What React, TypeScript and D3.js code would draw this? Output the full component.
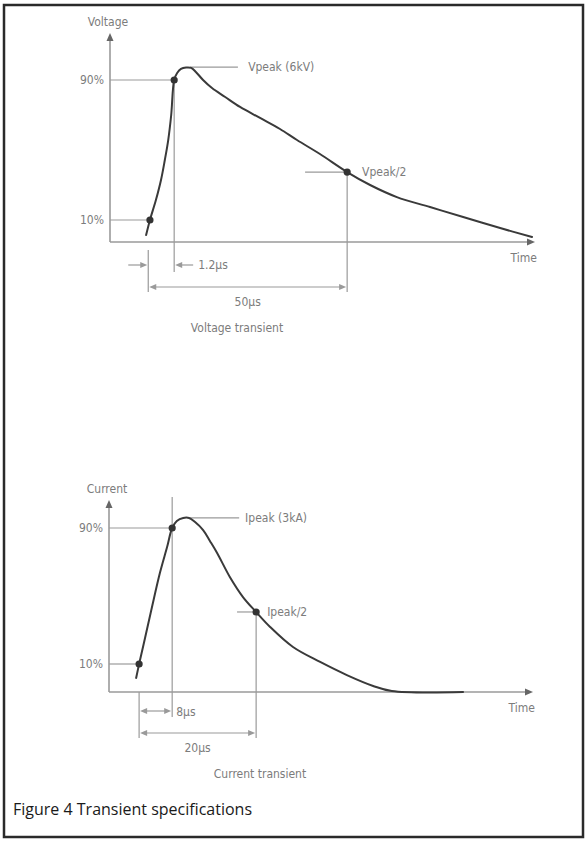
import React from 'react';
import * as d3 from 'd3';

// ---------- DATA (schematic time units 0..100 along the axis, level in % of peak) ----------
const voltageTime = [8.5, 9.4, 10.8, 12.0, 12.9, 13.7, 14.4, 15.1, 15.8, 16.7, 17.9, 19.1, 20.2, 21.9, 24.0, 27.1, 30.6, 35.3, 40.0, 44.0, 49.4, 55.8, 61.2, 67.5, 75.3, 83.1, 91.8, 99.3];
const voltageLevel = [1.4, 10, 21.4, 32.9, 44.3, 55.7, 70, 90, 94, 96.3, 97.1, 96.9, 94.6, 90, 85.4, 80.3, 74.6, 68.3, 62, 55.7, 47.7, 37.4, 30, 23.1, 17.4, 11.7, 5.4, 0.3];

const currentTime = [6.4, 7.1, 8.5, 10.1, 12.0, 13.7, 14.9, 16.0, 17.5, 18.9, 20.3, 22.2, 23.8, 25.5, 28.5, 31.6, 34.7, 38.0, 43.4, 49.8, 56.1, 62.3, 66.7, 83.5];
const currentLevel = [1.8, 10, 25.3, 43.1, 63.5, 78.8, 90, 94.1, 95.9, 95.9, 93.5, 88.8, 82.4, 75.3, 61.2, 49.4, 40.6, 31.8, 20, 11.2, 3.5, -2.9, -5.9, -6.5];

// marker points: 10%, 90%, half-peak
const voltageMarkerTime = [9.4, 15.1, 55.8];
const voltageMarkerLevel = [10, 90, 37.4];
const currentMarkerTime = [7.1, 14.9, 34.7];
const currentMarkerLevel = [10, 90, 40.6];

const levelTicks = [10, 90];
const levelTickLabels = ['10%', '90%'];

const voltageLabels = { y: 'Voltage', x: 'Time', peak: 'Vpeak (6kV)', half: 'Vpeak/2', front: '1.2µs', tail: '50µs', title: 'Voltage transient' };
const currentLabels = { y: 'Current', x: 'Time', peak: 'Ipeak (3kA)', half: 'Ipeak/2', front: '8µs', tail: '20µs', title: 'Current transient' };

// peak leader spans (time units) and peak level
const voltagePeak = { level: 97.4, from: 18.8, to: 30.1, label: 32.5 };
const currentPeak = { level: 95.9, from: 19.1, to: 30.7, label: 32.1 };
const voltageHalfLeader = { from: 45.9, label: 59.3 };
const currentHalfLeader = { from: 30.2, label: 37.3 };
const voltageDimStart = 9.0;
const currentDimStart = 7.1;

// ---------- STYLE ----------
const W = 588, H = 842;
const CURVE = '#3a3a3a';
const GUIDE = '#9a9a9a';
const TEXT = '#7c7c7c';
const FONT = "'DejaVu Sans Condensed', 'Liberation Sans Narrow', Arial, sans-serif";

type Layout = { x0: number; x1: number; y10: number; y90: number; axisY: number; axisTop: number };
const voltageLayout: Layout = { x0: 110, x1: 535, y10: 220, y90: 80, axisY: 242, axisTop: 33 };
const currentLayout: Layout = { x0: 109, x1: 533, y10: 664, y90: 528, axisY: 692, axisTop: 500 };

function Arrow({ x, y, dir, fill = GUIDE, len = 7, half = 3 }: { x: number; y: number; dir: 'l' | 'r' | 'u'; fill?: string; len?: number; half?: number }) {
  let pts = '';
  if (dir === 'r') pts = `${x},${y} ${x - len},${y - half} ${x - len},${y + half}`;
  if (dir === 'l') pts = `${x},${y} ${x + len},${y - half} ${x + len},${y + half}`;
  if (dir === 'u') pts = `${x},${y} ${x - half},${y + len} ${x + half},${y + len}`;
  return <polygon points={pts} fill={fill} />;
}

function Panel({ layout, times, levels, mTimes, mLevels, labels, peak, halfLeader, dimStart, isVoltage }: any) {
  const x = d3.scaleLinear().domain([0, 100]).range([layout.x0, layout.x1]);
  const y = d3.scaleLinear().domain([10, 90]).range([layout.y10, layout.y90]);
  const pts: [number, number][] = times.map((t: number, i: number) => [t, levels[i]]);
  const line = d3.line<[number, number]>().x(d => x(d[0])).y(d => y(d[1])).curve(d3.curveCatmullRom.alpha(0.5));
  const ax = layout.x0;
  const ay = layout.axisY;
  const tStyle = { fontFamily: FONT, fontSize: 12, fill: TEXT } as any;

  const ninetyX = x(mTimes[1]);
  const halfX = x(mTimes[2]);
  const halfY = y(mLevels[2]);
  const dimX = x(dimStart);

  const row1 = isVoltage ? ay + 23 : ay + 19;
  const row2 = isVoltage ? ay + 45 : ay + 41;

  return (
    <g>
      {/* axes */}
      <line x1={ax} y1={ay} x2={layout.x1 - 4} y2={ay} stroke={GUIDE} strokeWidth={1.6} />
      <line x1={ax} y1={ay} x2={ax} y2={layout.axisTop + 4} stroke={GUIDE} strokeWidth={1.6} />
      <Arrow x={layout.x1} y={ay} dir="r" fill="#666" len={8} half={3.5} />
      <Arrow x={ax} y={layout.axisTop} dir="u" fill="#666" len={8} half={3.5} />
      <text x={ax - 2} y={layout.axisTop - 7} textAnchor="middle" style={tStyle}>{labels.y}</text>
      <text x={layout.x1 + 2} y={ay + 20} textAnchor="end" style={tStyle}>{labels.x}</text>

      {/* level ticks */}
      {levelTicks.map((lv, i) => (
        <g key={lv}>
          <line x1={ax} y1={y(lv)} x2={x(mTimes[i])} y2={y(lv)} stroke={GUIDE} strokeWidth={1.2} />
          <text x={ax - 6} y={y(lv) + 4} textAnchor="end" style={tStyle}>{levelTickLabels[i]}</text>
        </g>
      ))}

      {/* peak leader */}
      <line x1={x(peak.from)} y1={y(peak.level)} x2={x(peak.to)} y2={y(peak.level)} stroke={GUIDE} strokeWidth={1.2} />
      <text x={x(peak.label)} y={y(peak.level) + 4} style={tStyle}>{labels.peak}</text>

      {/* half leader */}
      <line x1={x(halfLeader.from)} y1={halfY} x2={halfX} y2={halfY} stroke={GUIDE} strokeWidth={1.2} />
      <text x={x(halfLeader.label)} y={halfY + 4} style={tStyle}>{labels.half}</text>

      {/* verticals */}
      <line x1={ninetyX} y1={isVoltage ? y(90) : layout.axisTop - 3} x2={ninetyX} y2={isVoltage ? ay + 30 : row1 + 6} stroke={GUIDE} strokeWidth={1.2} />
      <line x1={halfX} y1={halfY} x2={halfX} y2={row2 + 5} stroke={GUIDE} strokeWidth={1.2} />
      <line x1={dimX} y1={isVoltage ? ay + 8 : ay} x2={dimX} y2={row2 + 5} stroke={GUIDE} strokeWidth={1.2} />

      {/* front-time dimension */}
      {isVoltage ? (
        <g>
          <line x1={dimX - 20} y1={row1} x2={dimX - 5} y2={row1} stroke={GUIDE} strokeWidth={1.2} />
          <Arrow x={dimX - 1} y={row1} dir="r" />
          <line x1={ninetyX + 5} y1={row1} x2={ninetyX + 19} y2={row1} stroke={GUIDE} strokeWidth={1.2} />
          <Arrow x={ninetyX + 1} y={row1} dir="l" />
          <text x={ninetyX + 24} y={row1 + 4} style={tStyle}>{labels.front}</text>
        </g>
      ) : (
        <g>
          <line x1={dimX + 4} y1={row1} x2={ninetyX - 4} y2={row1} stroke={GUIDE} strokeWidth={1.2} />
          <Arrow x={dimX + 1} y={row1} dir="l" />
          <Arrow x={ninetyX - 1} y={row1} dir="r" />
          <text x={ninetyX + 4} y={row1 + 5} style={tStyle}>{labels.front}</text>
        </g>
      )}

      {/* tail-time dimension */}
      <line x1={dimX + 4} y1={row2} x2={halfX - 4} y2={row2} stroke={GUIDE} strokeWidth={1.2} />
      <Arrow x={dimX + 1} y={row2} dir="l" />
      <Arrow x={halfX - 1} y={row2} dir="r" />
      <text x={(dimX + halfX) / 2} y={row2 + 19} textAnchor="middle" style={tStyle}>{labels.tail}</text>

      {/* curve */}
      <path d={line(pts) || ''} fill="none" stroke={CURVE} strokeWidth={2} strokeLinejoin="round" strokeLinecap="round" />
      {mTimes.map((t: number, i: number) => (
        <circle key={i} cx={x(t)} cy={y(mLevels[i])} r={3.6} fill="#333" />
      ))}

      {/* caption */}
      <text x={isVoltage ? 237 : 260} y={row2 + 45} textAnchor="middle" style={tStyle}>{labels.title}</text>
    </g>
  );
}

export default function App() {
  return (
    <svg width={W} height={H} viewBox={`0 0 ${W} ${H}`} style={{ position: 'absolute', left: 0, top: 0, background: '#fff' }}>
      <rect x={0} y={0} width={W} height={H} fill="#fff" />
      <rect x={4} y={5} width={579} height={832} fill="none" stroke="#2a2a2a" strokeWidth={2.5} />
      <Panel layout={voltageLayout} times={voltageTime} levels={voltageLevel} mTimes={voltageMarkerTime} mLevels={voltageMarkerLevel}
        labels={voltageLabels} peak={voltagePeak} halfLeader={voltageHalfLeader} dimStart={voltageDimStart} isVoltage={true} />
      <Panel layout={currentLayout} times={currentTime} levels={currentLevel} mTimes={currentMarkerTime} mLevels={currentMarkerLevel}
        labels={currentLabels} peak={currentPeak} halfLeader={currentHalfLeader} dimStart={currentDimStart} isVoltage={false} />
      <text x={13} y={815} style={{ fontFamily: "'Open Sans', 'Noto Sans', sans-serif", fontSize: 16, fill: '#1a1a1a' }}>Figure 4 Transient specifications</text>
    </svg>
  );
}
